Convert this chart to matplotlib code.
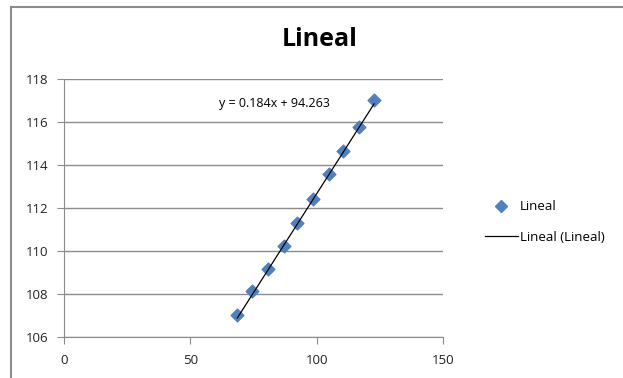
import numpy as np
import matplotlib.pyplot as plt
from matplotlib.lines import Line2D

x_vals = [68.6, 74.3, 80.6, 86.9, 92.2, 98.7, 104.9, 110.3, 116.7, 122.7]
y_vals = [107.02, 108.13, 109.15, 110.22, 111.32, 112.40, 113.57, 114.64, 115.78, 117.02]
slope = 0.184
intercept = 94.263

plt.rcParams['font.family'] = ['Open Sans', 'DejaVu Sans']
fig = plt.figure(figsize=(6.23, 3.78), dpi=100)
W, H = 623, 378
ax = fig.add_axes([64 / W, 1 - 337 / H, (443 - 64) / W, (337 - 79) / H])

# chart border (Excel style frame)
fig.add_artist(Line2D([11 / W, 11 / W], [0, 1 - 6.5 / H], transform=fig.transFigure, color='#8c8c8c', lw=1.5))
fig.add_artist(Line2D([11 / W, 1], [1 - 6.5 / H, 1 - 6.5 / H], transform=fig.transFigure, color='#8c8c8c', lw=1.5))

ax.scatter(x_vals, y_vals, marker='D', s=42, color='#4F81BD', zorder=3, label='Lineal')
xs = np.array([min(x_vals), max(x_vals)])
ax.plot(xs, slope * xs + intercept, color='black', lw=0.9, zorder=4, label='Lineal (Lineal)')

ax.set_xlim(0, 150)
ax.set_ylim(106, 118)
ax.set_xticks([0, 50, 100, 150])
ax.set_yticks(range(106, 119, 2))
ax.grid(axis='y', color='#8c8c8c', lw=1)
ax.set_axisbelow(True)
for s in ['top', 'right']:
    ax.spines[s].set_visible(False)
for s in ['left', 'bottom']:
    ax.spines[s].set_color('#8c8c8c')
ax.tick_params(direction='out', length=5, color='#8c8c8c', labelsize=9.5, labelcolor='#222222')
ax.tick_params(axis='x', pad=7)
ax.tick_params(axis='y', pad=6)

fig.text(219 / W, 1 - 103 / H, 'y = 0.184x + 94.263', fontsize=9, va='center', ha='left')
fig.text(320 / W, 1 - 40 / H, 'Lineal', fontsize=18, fontweight='bold', ha='center', va='center')

handles = [Line2D([], [], marker='D', ls='none', color='#4F81BD', markersize=6.5),
           Line2D([], [], color='black', lw=0.9)]
fig.legend(handles, ['Lineal', 'Lineal (Lineal)'], loc='center left',
           bbox_to_anchor=(478 / W, 1 - 222 / H), frameon=False, fontsize=9.5,
           handlelength=2.5, handletextpad=0.2, labelspacing=1.3, borderpad=0)

fig.savefig('out.png', dpi=100)
